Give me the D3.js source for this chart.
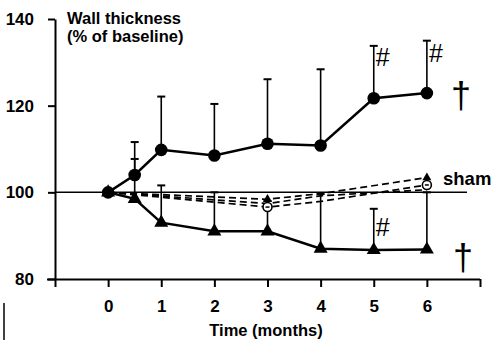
<!DOCTYPE html>
<html><head><meta charset="utf-8">
<script src="https://cdn.jsdelivr.net/npm/d3@7"></script>
<style>
body{margin:0;background:#fff;}
text{font-family:"Liberation Sans",Arial,sans-serif;}
</style></head>
<body><svg id="c" width="500" height="352"></svg>
<script>
const months = [0, 0.5, 1, 2, 3, 4, 5, 6];
const circleVals = [100, 104, 109.8, 108.5, 111.2, 110.8, 121.7, 122.9];
const circleErrTop = [null, 111.6, 122.1, 120.4, 126.1, 128.4, 133.8, 135.0];
const triVals = [100, 98.5, 93, 91, 91, 87, 86.7, 86.8];
const triErrTop = [null, 107.7, 101.6, 100, 98, 99.6, 96.2, 100];
const shamMonths = [0, 3, 4, 6];
const shamTri = [100, 98.4, 99.7, 103.4];
const shamCirc = [100, 96.6, 97.9, 101.7];
const shamMid = [100, 97.4, 99.2, 100.6];
const yTicks = [80, 100, 120, 140];
const xTicks = [-1, 0, 1, 2, 3, 4, 5, 6, 7];
const xLabels = ["", "0", "1", "2", "3", "4", "5", "6", ""];

const svg = d3.select("#c");
const x = d3.scaleLinear().domain([-1, 7]).range([55, 480]);
const y = d3.scaleLinear().domain([80, 140]).range([279, 19]);

// axes
const ya = svg.append("g").attr("transform", "translate(55,0)")
  .call(d3.axisLeft(y).tickValues(yTicks).tickSize(7).tickSizeOuter(0).tickPadding(14));
ya.selectAll("path,line").attr("stroke", "#000").attr("stroke-width", 2);
ya.selectAll("text").attr("font-size", 17).attr("font-weight", "bold").attr("fill", "#000")
  .attr("font-family", "Liberation Sans, Arial, sans-serif");

const xa = svg.append("g").attr("transform", "translate(0," + y(80) + ")")
  .call(d3.axisBottom(x).tickValues(xTicks).tickSize(8).tickSizeOuter(0).tickPadding(13)
    .tickFormat((d, i) => xLabels[i]));
xa.selectAll("path,line").attr("stroke", "#000").attr("stroke-width", 2);
xa.select("path.domain").attr("d", "M47,0.5H" + x(7));
xa.selectAll("text").attr("font-size", 17).attr("font-weight", "bold").attr("fill", "#000")
  .attr("font-family", "Liberation Sans, Arial, sans-serif");

// baseline reference line
svg.append("line").attr("x1", x(-1)).attr("x2", 467).attr("y1", y(100)).attr("y2", y(100))
  .attr("stroke", "#000").attr("stroke-width", 1.5);

// sham dashed lines
const line = d3.line().x(d => x(d[0])).y(d => y(d[1]));
[shamTri, shamCirc, shamMid].forEach(s => {
  svg.append("path").attr("d", line(shamMonths.map((m, i) => [m, s[i]])))
    .attr("fill", "none").attr("stroke", "#000").attr("stroke-width", 1.7)
    .attr("stroke-dasharray", "7,4");
});

// error bars
function errBars(vals, tops) {
  months.forEach((m, i) => {
    if (tops[i] == null) return;
    svg.append("line").attr("x1", x(m)).attr("x2", x(m)).attr("y1", y(vals[i])).attr("y2", y(tops[i]))
      .attr("stroke", "#000").attr("stroke-width", 1.6);
    svg.append("line").attr("x1", x(m) - 4).attr("x2", x(m) + 4).attr("y1", y(tops[i])).attr("y2", y(tops[i]))
      .attr("stroke", "#000").attr("stroke-width", 2);
  });
}
errBars(circleVals, circleErrTop);
errBars(triVals, triErrTop);

// main solid lines
svg.append("path").attr("d", line(months.map((m, i) => [m, triVals[i]])))
  .attr("fill", "none").attr("stroke", "#000").attr("stroke-width", 2.5);
svg.append("path").attr("d", line(months.map((m, i) => [m, circleVals[i]])))
  .attr("fill", "none").attr("stroke", "#000").attr("stroke-width", 2.5);

// sham markers (at 3 and 6)
[1, 3].forEach(i => {
  const m = shamMonths[i];
  svg.append("line").attr("x1", x(m)).attr("x2", x(m)).attr("y1", y(shamTri[i]) - 3).attr("y2", y(shamCirc[i]) + 3)
    .attr("stroke", "#000").attr("stroke-width", 1.5);
  svg.append("circle").attr("cx", x(m)).attr("cy", y(shamCirc[i])).attr("r", 4.5)
    .attr("fill", "#fff").attr("stroke", "#000").attr("stroke-width", 1.6);
  svg.append("line").attr("x1", x(m) - 2).attr("x2", x(m) + 2).attr("y1", y(shamCirc[i])).attr("y2", y(shamCirc[i]))
    .attr("stroke", "#000").attr("stroke-width", 1.5);
  svg.append("path").attr("d", d3.symbol(d3.symbolTriangle, 35)())
    .attr("transform", "translate(" + x(m) + "," + y(shamTri[i]) + ")").attr("fill", "#000");
});

// main markers
svg.selectAll(".tri").data(months).join("path").attr("class", "tri")
  .attr("d", d3.symbol(d3.symbolTriangle, 85)())
  .attr("transform", (m, i) => "translate(" + x(m) + "," + y(triVals[i]) + ")")
  .attr("fill", "#000");
svg.selectAll(".circ").data(months).join("circle").attr("class", "circ")
  .attr("cx", m => x(m)).attr("cy", (m, i) => y(circleVals[i])).attr("r", 6.3)
  .attr("fill", "#000");

// annotations
const hashes = [[5, 131], [6, 132], [5, 91.8]];
hashes.forEach(h => {
  svg.append("text").attr("x", x(h[0]) + 9).attr("y", y(h[1]) + 8)
    .attr("font-family", "Liberation Serif, Times New Roman, serif").attr("font-size", 25)
    .attr("text-anchor", "middle").text("#");
});
[[122.5, 461], [85, 463]].forEach(d => {
  svg.append("text").attr("x", d[1]).attr("y", y(d[0]) + 13)
    .attr("font-family", "Liberation Serif, Times New Roman, serif").attr("font-size", 36)
    .attr("text-anchor", "middle").text("†");
});
svg.append("text").attr("x", 443).attr("y", 185).attr("font-size", 18.5).attr("font-weight", "bold").text("sham");

svg.append("text").attr("x", 67).attr("y", 24).attr("font-size", 16.5).attr("font-weight", "bold").text("Wall thickness");
svg.append("text").attr("x", 67).attr("y", 42).attr("font-size", 16.5).attr("font-weight", "bold").text("(% of baseline)");
svg.append("text").attr("x", 266).attr("y", 336).attr("font-size", 16.5).attr("font-weight", "bold")
  .attr("text-anchor", "middle").text("Time (months)");

// stray mark at bottom left
svg.append("line").attr("x1", 4).attr("x2", 4).attr("y1", 303).attr("y2", 340)
  .attr("stroke", "#000").attr("stroke-width", 1.5);
</script></body></html>
